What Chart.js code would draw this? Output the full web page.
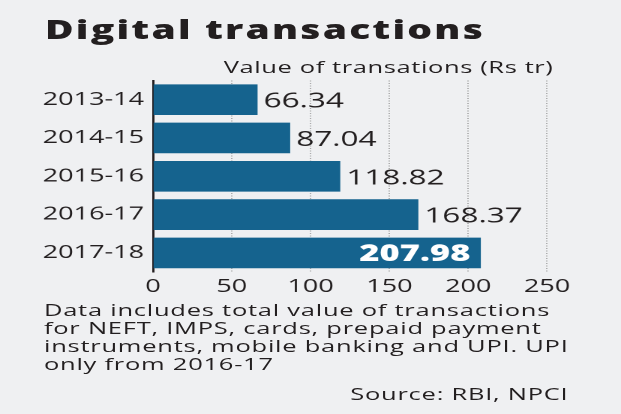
<!DOCTYPE html>
<html lang="en">
<head>
  <meta charset="UTF-8">
  <title>Digital transactions</title>
  <script src="https://cdn.jsdelivr.net/npm/chart.js"></script>
  <style>
    html, body { margin: 0; padding: 0; background: #eff0f2; overflow: hidden; }
    body { width: 621px; height: 414px; }
    /* the original graphic is a square one stretched to 1.5x its width */
    #wrap {
      position: relative; width: 414px; height: 414px;
      transform: scaleX(1.5); transform-origin: 0 0;
      font-family: "Open Sans", sans-serif; color: #231f20;
    }
    #title { position: absolute; left: 30px; top: 16.2px; font-size: 26px; font-weight: 800; letter-spacing: 1.45px; line-height: 1; white-space: nowrap; }
    #subtitle { position: absolute; right: 45px; top: 58.2px; font-size: 17px; letter-spacing: 0.4px; line-height: 1; white-space: nowrap; }
    #note { position: absolute; left: 29.3px; top: 301.2px; font-size: 17px; letter-spacing: 0.5px; line-height: 17.8px; white-space: nowrap; }
    #source { position: absolute; right: 35px; top: 384.9px; font-size: 17px; letter-spacing: 0.5px; line-height: 1; white-space: nowrap; }
    #chart { position: absolute; left: 0; top: 70px; }
  </style>
</head>
<body>
  <div id="wrap">
    <div id="title">Digital transactions</div>
    <div id="subtitle">Value of transations (Rs tr)</div>
    <canvas id="chart" width="414" height="230"></canvas>
    <div id="note">Data includes total value of transactions<br>for NEFT, IMPS, cards, prepaid payment<br>instruments, mobile banking and UPI. UPI<br>only from 2016-17</div>
    <div id="source">Source: RBI, NPCI</div>
  </div>
  <script>
    const years = ['2013-14', '2014-15', '2015-16', '2016-17', '2017-18'];
    const values = [66.34, 87.04, 118.82, 168.37, 207.98];
    const valueLabels = ['66.34', '87.04', '118.82', '168.37', '207.98'];
    const xTicks = [0, 50, 100, 150, 200, 250];

    // value labels: outside the bar, last one white inside
    const barLabels = {
      id: 'barLabels',
      afterDatasetsDraw(chart) {
        const ctx = chart.ctx;
        const bars = chart.getDatasetMeta(0).data;
        ctx.save();
        ctx.textBaseline = 'middle';
        bars.forEach((bar, i) => {
          const last = i === bars.length - 1;
          if (last) {
            ctx.font = '800 23px "Open Sans"';
            ctx.fillStyle = '#ffffff';
            ctx.textAlign = 'right';
            ctx.fillText(valueLabels[i], bar.x - 7, bar.y + 1.5);
          } else {
            ctx.font = '21px "Open Sans"';
            ctx.fillStyle = '#231f20';
            ctx.textAlign = 'left';
            ctx.fillText(valueLabels[i], bar.x + 4, bar.y + 2);
          }
        });
        ctx.restore();
      }
    };

    const chart = new Chart(document.getElementById('chart'), {
      type: 'bar',
      data: {
        labels: years,
        datasets: [{
          data: values,
          backgroundColor: '#15638e',
          barPercentage: 0.8,
          categoryPercentage: 1
        }]
      },
      options: {
        indexAxis: 'y',
        responsive: false,
        devicePixelRatio: 2,
        animation: false,
        layout: { padding: { top: 10.5, right: 49.3, left: 0, bottom: 0 } },
        plugins: { legend: { display: false }, tooltip: { enabled: false } },
        scales: {
          x: {
            min: 0, max: 250,
            afterBuildTicks: (s) => { s.ticks = xTicks.map(v => ({ value: v })); },
            afterFit: (s) => { s.height = 27.9; s.paddingLeft = 0; s.paddingRight = 0; },
            grid: { color: '#9a9a9a', lineWidth: 0.8, drawTicks: false },
            border: { display: false, dash: [1, 1.5] },
            ticks: { color: '#231f20', font: { family: 'Open Sans', size: 18 }, padding: 4 }
          },
          y: {
            afterFit: (s) => { s.width = 102; s.paddingTop = 0; s.paddingBottom = 0; },
            grid: { display: false, drawTicks: false },
            border: { display: true, color: '#231f20', width: 1.5 },
            ticks: { color: '#231f20', font: { family: 'Open Sans', size: 18 }, padding: 6 }
          }
        }
      },
      plugins: [barLabels]
    });
  </script>
</body>
</html>
